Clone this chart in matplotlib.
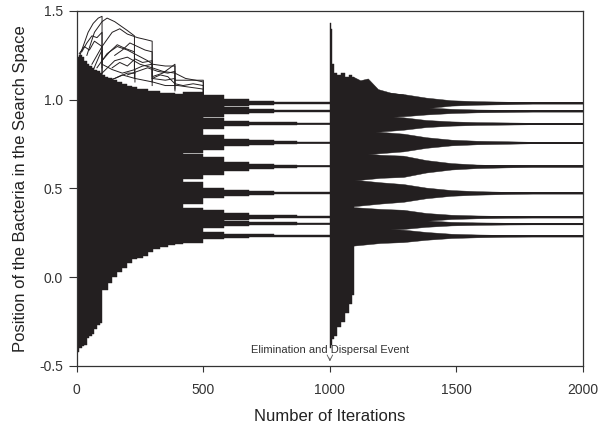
"""
Bacteria positions over the iterations of a bacterial foraging run,
with the elimination and dispersal event at iteration 1000.
"""

import numpy as np
import matplotlib
matplotlib.use("Agg")
import matplotlib.pyplot as plt

INK = "#231f20"

levels = [0.233, 0.302, 0.340, 0.475, 0.625, 0.759, 0.866, 0.937, 0.982]

# dense swarm before the first settling, iterations 0-420
body1_iter = [0, 10, 20, 30, 40, 50, 60, 70, 80, 90, 100, 110, 125, 140, 160,
              180, 200, 220, 240, 260, 280, 300, 330, 360, 390, 420]
body1_low = [-0.42, -0.40, -0.39, -0.38, -0.34, -0.33, -0.32, -0.29, -0.27, -0.26,
             -0.07, -0.07, -0.03, 0.00, 0.03, 0.05, 0.08, 0.10, 0.11, 0.12,
             0.14, 0.16, 0.17, 0.18, 0.19, 0.20]
body1_high = [1.24, 1.25, 1.24, 1.22, 1.20, 1.19, 1.18, 1.17, 1.16, 1.15,
              1.14, 1.13, 1.12, 1.11, 1.10, 1.09, 1.08, 1.07, 1.06, 1.06,
              1.05, 1.05, 1.04, 1.04, 1.03, 1.03]

# stray bacteria above the swarm, as iteration / position pairs
stray_iter = [
    [5, 25, 45, 65, 85, 100, 100, 140, 180, 230, 230],
    [40, 70, 100, 120, 150, 170, 200, 228, 228, 260, 298, 298, 350, 388, 388],
    [60, 100, 140, 170, 200, 240, 270, 298, 298, 340, 388, 388, 440, 500, 500],
    [80, 120, 160, 200, 240, 280, 300, 350, 388, 388],
    [100, 150, 200, 250, 298, 340, 388, 430, 470, 500, 500],
    [120, 180, 230, 300, 350, 400, 450, 500, 500],
    [60, 90, 100, 100, 150, 200, 230],
    [10, 30, 50, 70, 90, 100, 100],
    [100, 130, 160, 190, 228, 228],
    [140, 170, 200, 230, 260, 298, 298],
    [200, 240, 280, 320, 360, 388, 388],
    [298, 330, 360, 388, 420, 460, 500, 500],
    [20, 40, 60, 80, 100, 100],
    [150, 180, 210, 240, 270, 298, 298],
]
stray_pos = [
    [1.22, 1.30, 1.38, 1.43, 1.46, 1.47, 1.20, 1.17, 1.15, 1.17, 1.10],
    [1.25, 1.38, 1.44, 1.46, 1.44, 1.42, 1.39, 1.36, 1.17, 1.19, 1.20, 1.12, 1.11, 1.12, 1.05],
    [1.20, 1.30, 1.38, 1.40, 1.37, 1.35, 1.34, 1.33, 1.13, 1.15, 1.20, 1.11, 1.11, 1.11, 1.01],
    [1.18, 1.26, 1.30, 1.28, 1.25, 1.22, 1.20, 1.19, 1.19, 1.08],
    [1.15, 1.22, 1.24, 1.20, 1.18, 1.16, 1.15, 1.12, 1.11, 1.10, 1.02],
    [1.10, 1.14, 1.12, 1.10, 1.08, 1.08, 1.07, 1.06, 1.00],
    [1.15, 1.25, 1.28, 1.10, 1.12, 1.15, 1.15],
    [1.26, 1.30, 1.28, 1.33, 1.31, 1.30, 1.15],
    [1.22, 1.27, 1.31, 1.29, 1.27, 1.12],
    [1.18, 1.21, 1.19, 1.23, 1.21, 1.22, 1.08],
    [1.14, 1.16, 1.18, 1.16, 1.15, 1.16, 1.06],
    [1.12, 1.14, 1.13, 1.09, 1.08, 1.09, 1.08, 1.03],
    [1.27, 1.32, 1.36, 1.35, 1.38, 1.18],
    [1.25, 1.28, 1.32, 1.30, 1.28, 1.27, 1.10],
]

# half widths of the bundle round each level, iterations 420-1000
band2_iter = [420, 500, 580, 680, 780, 870, 1000]
band2_hw = [
    [0.040, 0.020, 0.012, 0.008, 0.006, 0.004],
    [0.030, 0.025, 0.015, 0.010, 0.007, 0.004],
    [0.050, 0.040, 0.020, 0.012, 0.008, 0.004],
    [0.060, 0.030, 0.015, 0.010, 0.007, 0.004],
    [0.070, 0.050, 0.025, 0.015, 0.010, 0.004],
    [0.060, 0.040, 0.020, 0.012, 0.008, 0.004],
    [0.050, 0.030, 0.015, 0.010, 0.007, 0.004],
    [0.040, 0.035, 0.020, 0.012, 0.008, 0.004],
    [0.060, 0.045, 0.020, 0.012, 0.008, 0.004],
]

# burst after elimination and dispersal, iterations 1000-1095
body4_iter = [1000, 1004, 1008, 1015, 1030, 1045, 1060, 1075, 1088, 1095]
body4_low = [-0.40, -0.38, -0.35, -0.33, -0.28, -0.25, -0.20, -0.15, -0.10, 0.18]
body4_high = [1.43, 1.40, 1.20, 1.15, 1.14, 1.15, 1.13, 1.14, 1.13, 1.13]
cap4_iter = [1092, 1120, 1150, 1190, 1240, 1290]
cap4_low = [0.90, 0.90, 0.90, 0.90, 0.92, 0.93]
cap4_high = [1.13, 1.11, 1.12, 1.06, 1.04, 1.03]

# half widths of the bundle round each level, iterations 1092-2000
band4_iter = [1092, 1200, 1290, 1380, 1480, 1580, 1700, 1800, 2000]
band4_hw = [
    [0.055, 0.040, 0.035, 0.022, 0.012, 0.008, 0.005, 0.004, 0.004],
    [0.040, 0.035, 0.030, 0.018, 0.010, 0.007, 0.005, 0.004, 0.004],
    [0.055, 0.045, 0.040, 0.022, 0.012, 0.008, 0.005, 0.004, 0.004],
    [0.075, 0.060, 0.050, 0.030, 0.016, 0.010, 0.006, 0.004, 0.004],
    [0.080, 0.065, 0.060, 0.035, 0.018, 0.010, 0.006, 0.004, 0.004],
    [0.070, 0.060, 0.050, 0.030, 0.016, 0.010, 0.007, 0.004, 0.004],
    [0.055, 0.045, 0.035, 0.020, 0.012, 0.008, 0.006, 0.004, 0.004],
    [0.040, 0.035, 0.030, 0.020, 0.012, 0.008, 0.006, 0.004, 0.004],
    [0.070, 0.060, 0.050, 0.030, 0.015, 0.010, 0.007, 0.004, 0.004],
]

x_ticks = [0, 500, 1000, 1500, 2000]
y_ticks = [-0.5, 0.0, 0.5, 1.0, 1.5]


def fill_area(ax, x, low, high, step="post"):
    ax.fill_between(x, low, high, step=step, color=INK, lw=0.3, edgecolor=INK)


plt.rcParams["font.family"] = ["Liberation Sans", "DejaVu Sans"]
plt.rcParams["axes.unicode_minus"] = False

fig = plt.figure(figsize=(5.98, 4.28), dpi=100)
ax = fig.add_axes([0.1283, 0.1449, 0.8467, 0.8294])

# first search phase: swarm, strays, then bundles that step down in width
fill_area(ax, body1_iter, body1_low, body1_high)
for xs, ys in zip(stray_iter, stray_pos):
    ax.plot(xs, ys, color=INK, lw=0.7)
for lvl, hw in zip(levels, band2_hw):
    hw = np.array(hw + [hw[-1]])
    fill_area(ax, band2_iter, lvl - hw, lvl + hw)
ax.hlines(levels, 500, 1000, color=INK, lw=1.2)

# after the elimination and dispersal event: burst, then tapering bundles
fill_area(ax, body4_iter, body4_low, body4_high)
fill_area(ax, cap4_iter, cap4_low, cap4_high, step=None)
for lvl, hw in zip(levels, band4_hw):
    hw = np.array(hw)
    fill_area(ax, band4_iter, lvl - hw, lvl + hw, step=None)
ax.hlines(levels, 1090, 2000, color=INK, lw=1.4)

ax.text(1000, -0.41, "Elimination and Dispersal Event", ha="center", va="center",
        fontsize=8, color="#333333")
ax.annotate("", xy=(1000, -0.49), xytext=(1000, -0.44),
            arrowprops=dict(arrowstyle="->", lw=0.6, color="#555555"))

ax.set_xlim(0, 2000)
ax.set_ylim(-0.5, 1.5)
ax.set_xticks(x_ticks)
ax.set_yticks(y_ticks)
ax.set_yticklabels([f"{v:.1f}" for v in y_ticks])
ax.tick_params(axis="x", length=4, width=0.8, pad=8, labelsize=10, colors="#333333")
ax.tick_params(axis="y", length=6, width=0.8, pad=4, labelsize=10, colors="#333333")
for spine in ax.spines.values():
    spine.set_color("#333333")
    spine.set_linewidth(0.9)

ax.set_xlabel("Number of Iterations", fontsize=12, labelpad=9, color="#222222")
ax.set_ylabel("Position of the Bacteria in the Search Space", fontsize=12,
              labelpad=8, color="#222222")

fig.savefig("out.png", dpi=100)
